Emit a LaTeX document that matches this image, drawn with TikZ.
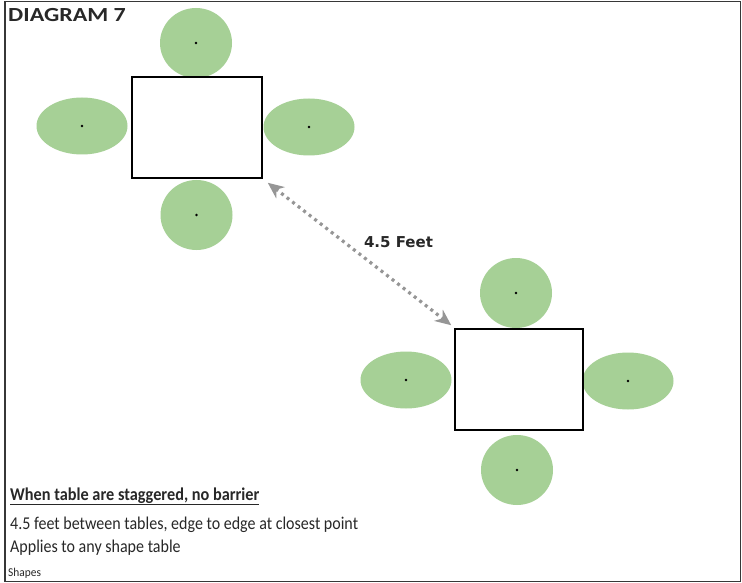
\documentclass[tikz,border=0pt]{standalone}
\usepackage{fontspec}
\setmainfont{Carlito}
\newfontfamily\labelfont{DejaVu Sans}
\usetikzlibrary{arrows.meta,shapes.geometric}
\definecolor{seatgreen}{RGB}{166,208,150}
\definecolor{gapgray}{RGB}{150,150,150}
\definecolor{framegray}{RGB}{55,55,55}
\definecolor{textdark}{RGB}{40,40,40}
\begin{document}
\begin{tikzpicture}[x=1pt,y=-1pt,
  tablebox/.style={draw=black,line width=1.6pt,inner sep=0pt,fill=white},
  roundseat/.style={ellipse,fill=seatgreen,inner sep=0pt,minimum width=72pt,minimum height=70pt},
  sideseat/.style={ellipse,fill=seatgreen,inner sep=0pt,minimum width=91pt,minimum height=57pt},
  gap/.style={gapgray,line width=3.2pt,dash pattern=on 3pt off 4pt,
    {Stealth[length=16pt,width=14pt,inset=5pt]}-{Stealth[length=16pt,width=14pt,inset=5pt]}},
  caption/.style={anchor=base west,inner sep=0pt,text=textdark,font=\fontsize{18}{21}\selectfont}
]
\useasboundingbox (0,0) rectangle (742,583);
\fill[white] (0,0) rectangle (742,583);
\draw[framegray,line width=1.6pt] (5,1.5) rectangle (740.5,581.5);

% first table with its four seats
\node[roundseat] (s1n) at (196,43) {};
\node[sideseat] (s1w) at (82,126) {};
\node[sideseat] (s1e) at (309,127) {};
\node[roundseat] (s1s) at (196.5,215) {};
\node[tablebox,minimum width=130pt,minimum height=101pt] (t1) at (197,127.5) {};

% second table with its four seats
\node[roundseat] (s2n) at (516,293) {};
\node[sideseat] (s2w) at (406,380) {};
\node[sideseat] (s2e) at (628,381) {};
\node[roundseat] (s2s) at (517,470) {};
\node[tablebox,minimum width=128pt,minimum height=101pt] (t2) at (519,379.5) {};

% seat centre marks
\foreach \s in {s1n,s1w,s1e,s1s,s2n,s2w,s2e,s2s}
  \fill[black] (\s.center) circle (1.3pt);

% spacing between the closest corners
\coordinate (g1) at ([shift={(5pt,-4pt)}]t1.south east);
\coordinate (g2) at ([shift={(-3pt,3pt)}]t2.north west);
\draw[gap] (g1) -- (g2);
\node[font=\labelfont\bfseries\fontsize{15}{17}\selectfont,text=textdark] (gl) at (398.5,242) {4.5 Feet};

% headings and notes
\node[caption,font=\bfseries\fontsize{20}{23}\selectfont,xscale=1.2] (title) at (8,21.5) {DIAGRAM 7};
\node[caption,font=\bfseries\fontsize{18}{21}\selectfont,xscale=0.905] (rule) at (10,500) {\underline{When table are staggered, no barrier}};
\node[caption,xscale=0.89] (note1) at (10,529.5) {4.5 feet between tables, edge to edge at closest point};
\node[caption,xscale=0.89] (note2) at (10,552) {Applies to any shape table};
\node[caption,font=\fontsize{12}{14}\selectfont,xscale=0.95] (note3) at (8,576) {Shapes};
\end{tikzpicture}
\end{document}
